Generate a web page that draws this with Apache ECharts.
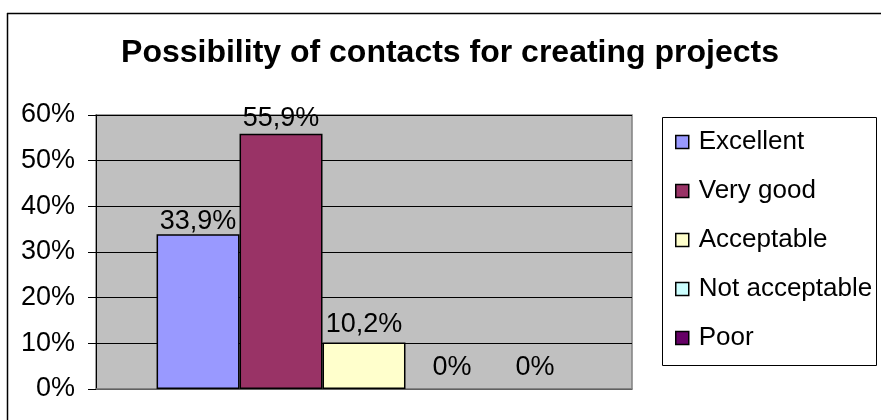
<!DOCTYPE html>
<html>
<head>
<meta charset="utf-8">
<script src="https://cdn.jsdelivr.net/npm/echarts@6/dist/echarts.min.js"></script>
<style>html,body{margin:0;padding:0;background:#fff}#c{width:881px;height:420px}</style>
</head>
<body>
<div id="c"></div>
<script>
var titleText = 'Possibility of contacts for creating projects';
var categories = [''];
var seriesNames = ['Excellent', 'Very good', 'Acceptable', 'Not acceptable', 'Poor'];
var seriesValues = [0.339, 0.559, 0.102, 0, 0];
var seriesColors = ['#9999FF', '#993366', '#FFFFCC', '#CCFFFF', '#660066'];
var labelDistances = [-1, 2, 4, 8, 8];
var yTicks = [0, 0.1, 0.2, 0.3, 0.4, 0.5, 0.6];

var FONT = 'Liberation Sans, Arial, sans-serif';
function pct(v, dec) {
  var s = (v * 100).toFixed(dec);
  if (dec > 0 && Math.abs(v * 100 - Math.round(v * 100)) < 1e-9) s = String(Math.round(v * 100));
  return s.replace('.', ',') + '%';
}

var chart = echarts.init(document.getElementById('c'), null, {renderer: 'canvas'});
var series = seriesNames.map(function (n, i) {
  var v = seriesValues[i];
  return {
    name: n,
    type: 'bar',
    barGap: '0%',
    barCategoryGap: '22.6%',
    data: [{value: v, label: {distance: labelDistances[i], offset: v === 0 ? [5, 0] : [0, 0]}, itemStyle: {borderWidth: v === 0 ? 0 : 1.5}}],
    itemStyle: {color: seriesColors[i], borderColor: '#000', borderWidth: 1.5},
    label: {
      show: true, position: 'top', color: '#000', fontFamily: FONT, fontSize: 27,
      formatter: function (p) { return p.value === 0 ? '0%' : pct(p.value, 1); }
    },
    emphasis: {disabled: true},
    animation: false
  };
});

chart.setOption({
  animation: false,
  title: {
    text: titleText, left: 445, top: 32, textAlign: 'center',
    textStyle: {fontFamily: FONT, fontWeight: 'bold', fontSize: 32, color: '#000'}
  },
  graphic: [
    {type: 'line', shape: {x1: 7, y1: 13.5, x2: 881, y2: 13.5}, style: {stroke: '#000', lineWidth: 1.5}},
    {type: 'line', shape: {x1: 7.5, y1: 13, x2: 7.5, y2: 420}, style: {stroke: '#000', lineWidth: 1.5}},
    {type: 'rect', shape: {x: 662.5, y: 117.5, width: 214, height: 248}, style: {fill: '#fff', stroke: '#000', lineWidth: 1}, z: -1}
  ],
  legend: {
    orient: 'vertical', left: 675, top: 129, padding: 0,
    itemWidth: 13, itemHeight: 13, itemGap: 23, icon: 'rect',
    selectedMode: false,
    itemStyle: {borderColor: '#000', borderWidth: 1.5},
    textStyle: {fontFamily: FONT, fontSize: 26, color: '#000', lineHeight: 26, padding: [0, 0, 0, 5]},
    data: seriesNames
  },
  grid: {
    left: 96, top: 115, right: 249, bottom: 31,
    show: true, backgroundColor: '#C0C0C0', borderColor: '#808080', borderWidth: 1.5
  },
  xAxis: {
    type: 'category', data: categories,
    axisLine: {show: true, lineStyle: {color: '#808080', width: 1.5}},
    axisTick: {show: false}, axisLabel: {show: false}
  },
  yAxis: {
    type: 'value', min: yTicks[0], max: yTicks[yTicks.length - 1], interval: 0.1,
    axisLine: {show: true, lineStyle: {color: '#000', width: 1}},
    axisTick: {show: true, length: 8, lineStyle: {color: '#000'}},
    axisLabel: {
      margin: 21, fontFamily: FONT, fontSize: 27, color: '#000',
      formatter: function (v) { return pct(v, 0); }
    },
    splitLine: {show: true, lineStyle: {color: '#000', width: 1}}
  },
  series: series
});
</script>
</body>
</html>
